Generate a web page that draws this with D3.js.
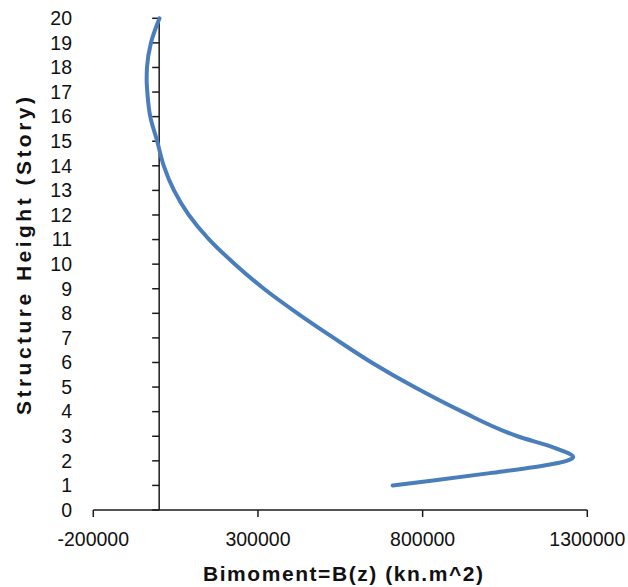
<!DOCTYPE html>
<html><head><meta charset="utf-8">
<script src="https://cdn.jsdelivr.net/npm/d3@7"></script>
<style>body{margin:0;background:#fff}svg{display:block}</style>
</head><body>
<svg id="c" width="628" height="587"></svg>
<script>
const heights   = [1, 1.2, 1.5, 1.8, 2, 2.15, 2.5, 3, 4, 5, 6, 7, 8, 9, 10, 11, 12, 13, 14, 15, 16, 17, 17.5, 18, 19, 20];
const bimoments = [709000, 832000, 1004000, 1165000, 1237000, 1257000, 1207000, 1088000, 920000, 775000, 645000, 530000, 420000, 318000, 230000, 152000, 90000, 45000, 14000, -6000, -27000, -36000, -38000, -37000, -25000, 1000];
const xTicks = [-200000, 300000, 800000, 1300000];
const yTicks = d3.range(0, 21);
const xTitle = "Bimoment=B(z) (kn.m^2)";
const yTitle = "Structure Height (Story)";

const svg = d3.select("#c");
const x = d3.scaleLinear().domain([-200000, 1300000]).range([93.3, 587.3]);
const y = d3.scaleLinear().domain([0, 20]).range([510, 18.3]);
const font = "'Liberation Sans', Arial, Helvetica, sans-serif";
const axisColor = "#1a1a1a";

// x axis line at y=0
svg.append("line").attr("x1", x(-200000)).attr("x2", x(1300000))
  .attr("y1", y(0)).attr("y2", y(0)).attr("stroke", axisColor).attr("stroke-width", 1.5);
svg.selectAll(".xt").data(xTicks).enter().append("line")
  .attr("x1", d => x(d)).attr("x2", d => x(d)).attr("y1", y(0)).attr("y2", y(0) + 7)
  .attr("stroke", axisColor).attr("stroke-width", 1.5);
svg.selectAll(".xl").data(xTicks).enter().append("text")
  .attr("x", d => x(d)).attr("y", 546).attr("text-anchor", "middle")
  .attr("font-family", font).attr("font-size", 19.5).attr("fill", "#111")
  .text(d => d);

// y axis line at x=0
svg.append("line").attr("x1", x(0)).attr("x2", x(0))
  .attr("y1", y(0)).attr("y2", y(20)).attr("stroke", axisColor).attr("stroke-width", 1.5);
svg.selectAll(".yt").data(yTicks).enter().append("line")
  .attr("x1", x(0) - 7).attr("x2", x(0)).attr("y1", d => y(d)).attr("y2", d => y(d))
  .attr("stroke", axisColor).attr("stroke-width", 1.5);
svg.selectAll(".yl").data(yTicks).enter().append("text")
  .attr("x", 72).attr("y", d => y(d)).attr("dy", "0.35em").attr("text-anchor", "end")
  .attr("font-family", font).attr("font-size", 19.5).attr("fill", "#111")
  .text(d => d);

// titles
svg.append("text").attr("x", 343).attr("y", 581).attr("text-anchor", "middle")
  .attr("font-family", font).attr("font-weight", "bold").attr("font-size", 21).attr("fill", "#111")
  .attr("textLength", 280).attr("lengthAdjust", "spacing")
  .text(xTitle);
svg.append("text").attr("transform", "translate(31,256) rotate(-90)").attr("text-anchor", "middle")
  .attr("font-family", font).attr("font-weight", "bold").attr("font-size", 21).attr("fill", "#111")
  .attr("textLength", 318).attr("lengthAdjust", "spacing")
  .text(yTitle);

// curve
const pts = heights.map((h, i) => [bimoments[i], h]);
const line = d3.line().x(d => x(d[0])).y(d => y(d[1])).curve(d3.curveMonotoneY);
svg.append("path").attr("d", line(pts)).attr("fill", "none")
  .attr("stroke", "#4A7EBB").attr("stroke-width", 4).attr("stroke-linecap", "round").attr("stroke-linejoin", "round");
</script>
</body></html>
